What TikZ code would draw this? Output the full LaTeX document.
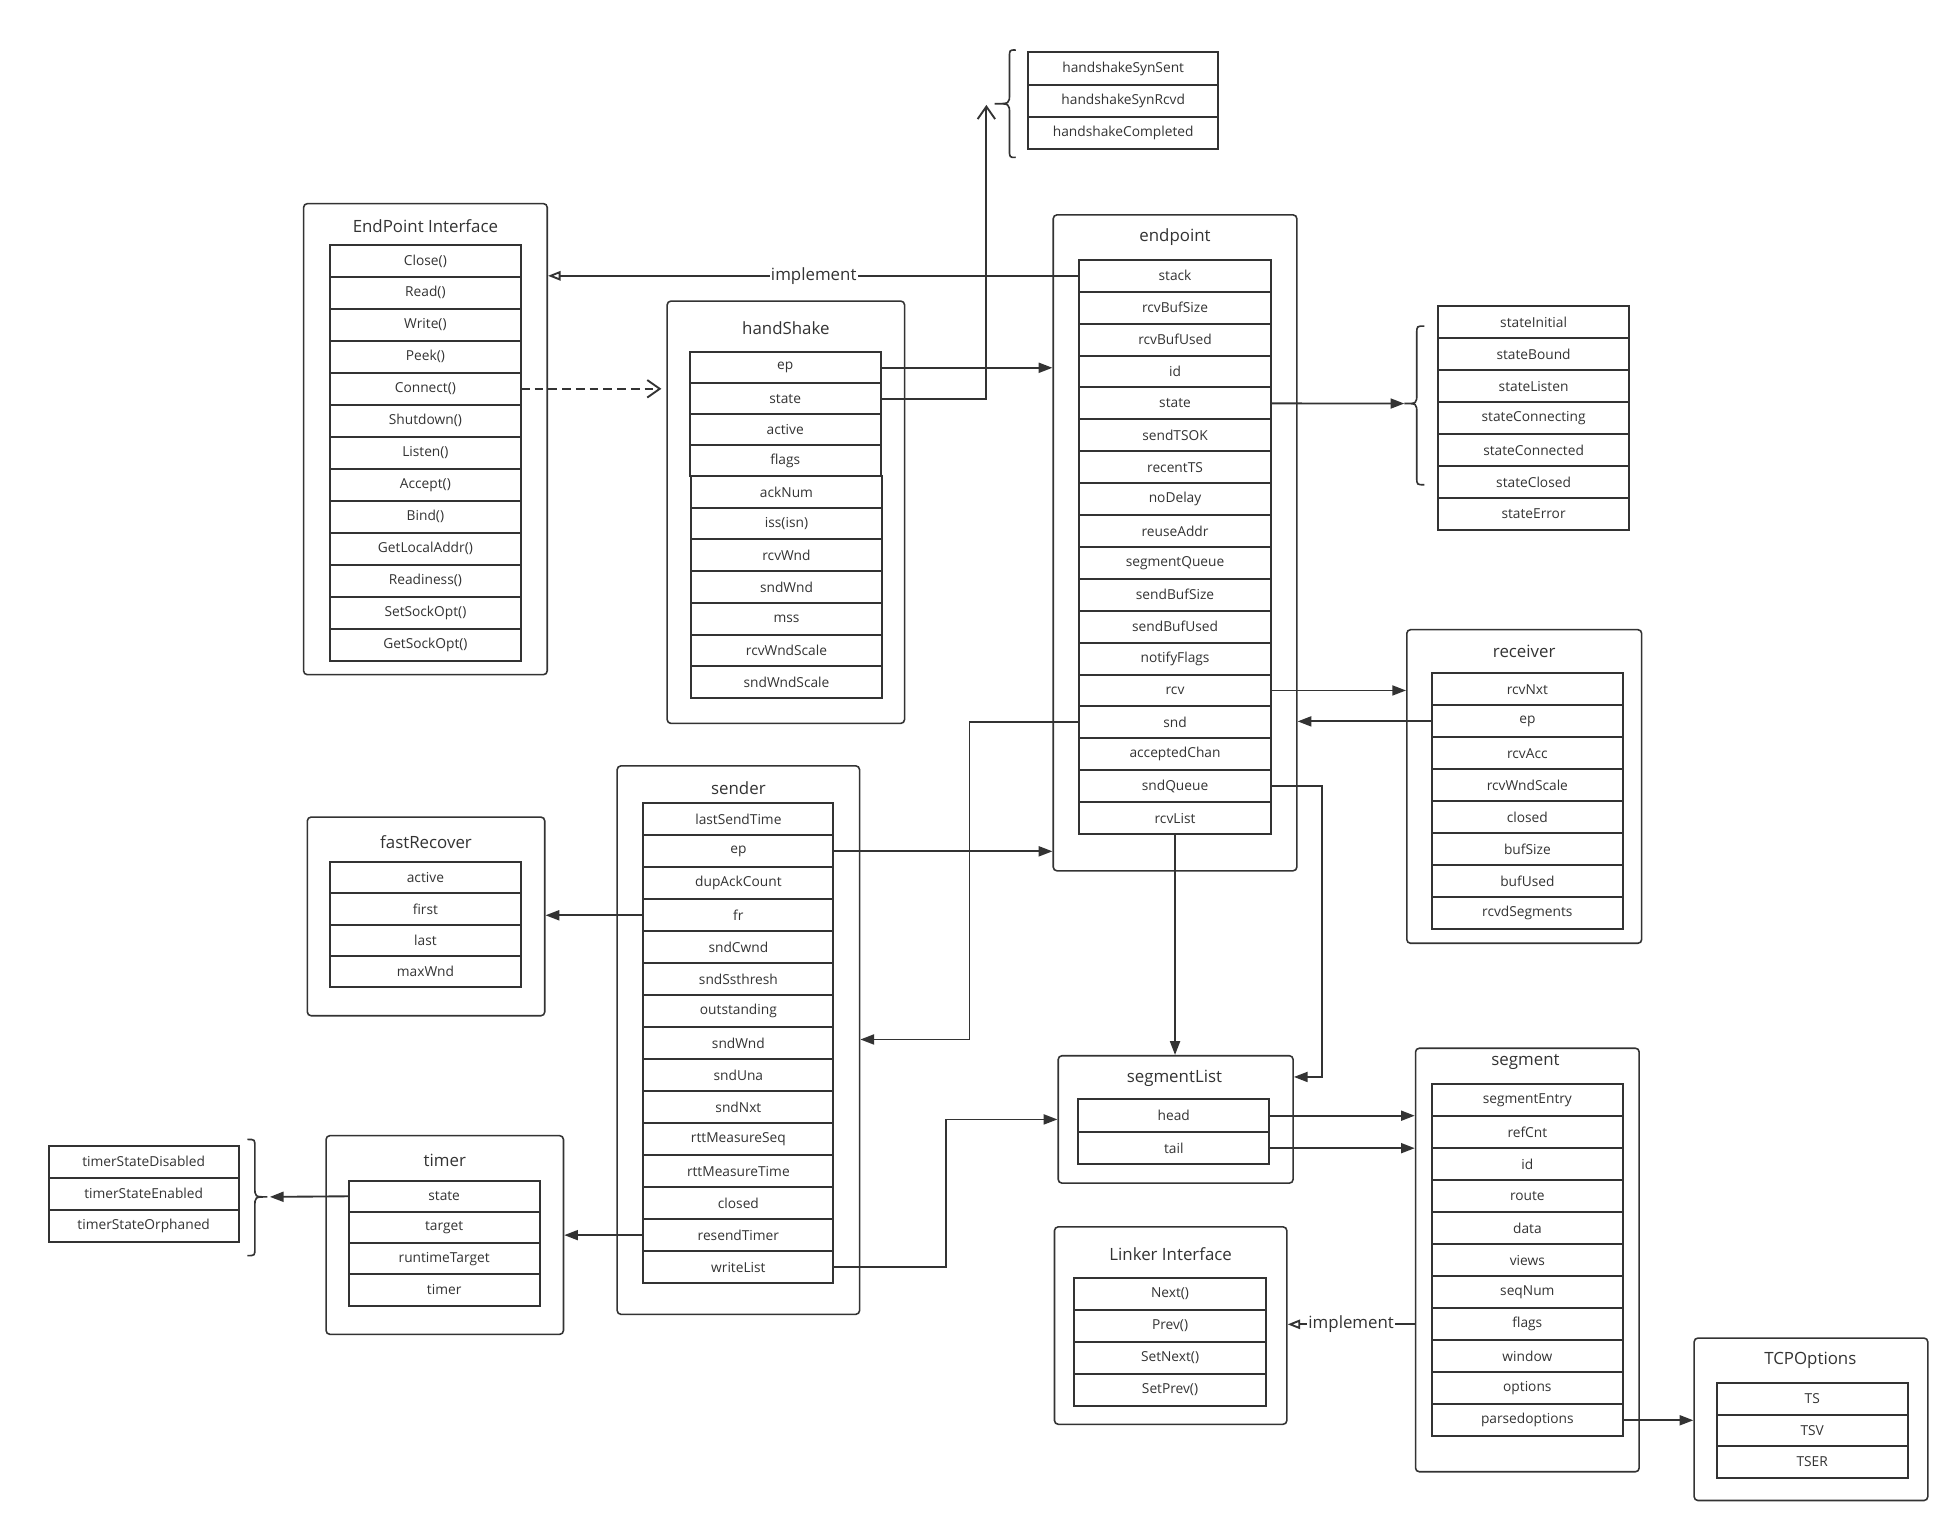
\documentclass[tikz,border=0pt]{standalone}
\usepackage{fontspec}
\setmainfont{Open Sans}
\usetikzlibrary{arrows.meta,fit}
\definecolor{ink}{HTML}{333333}
\tikzset{
  obox/.style={draw=ink, line width=1.25pt, rounded corners=3pt, inner sep=0pt, fill=white},
  ttl/.style={text=ink, font=\fontsize{13.5}{15}\selectfont, inner sep=0pt},
  fld/.style={draw=ink, line width=1.6pt, fill=white, text=ink, font=\fontsize{11}{13}\selectfont, inner sep=0pt, outer sep=0pt},
  conn/.style={draw=ink, line width=1.5pt},
  solidarrow/.style={conn, -{Triangle[length=11pt,width=8pt]}},
  impl/.style={conn, -{Triangle[open,length=10pt,width=7.5pt,fill=white]}},
  barb/.style={conn, -{Straight Barb[length=10pt,width=14pt]}},
  lbl/.style={fill=white, text=ink, font=\fontsize{13.5}{15}\selectfont, inner sep=1pt},
  curly/.style={draw=ink, line width=1.3pt},
}
% a column of field cells: prefix, left x, top y, width, row height, labels
\newcommand\fieldstack[6]{%
  \foreach \fname [count=\i] in {#6}{%
    \node[fld, minimum width=#4pt, minimum height=#5pt, anchor=north west] (#1-\i) at ({#2},{#3+(\i-1)*#5}) {\fname};
  }%
}
% curly brace: tip x, tip y, stem x, end x, top y, bottom y
\newcommand\curlybrace[6]{%
  \draw[curly] (#4,#5) .. controls (#3,#5) .. (#3,#5+6)
    -- (#3,#2-8) .. controls (#3,#2) .. (#1,#2)
    .. controls (#3,#2) .. (#3,#2+8)
    -- (#3,#6-6) .. controls (#3,#6) .. (#4,#6);
}
\begin{document}
\begin{tikzpicture}[x=1pt,y=-1pt]
\fill[white] (0,0) rectangle (1568,1228);
\useasboundingbox (0,0) rectangle (1568,1228);

% struct frames and their titles
\node[obox, fit={(243,163) (438,540)}] (epi) {};
\node[ttl] (epi-t) at (340.5,181) {EndPoint Interface};
\node[obox, fit={(534,241) (724,579)}] (hs) {};
\node[ttl] (hs-t) at (629,263) {handShake};
\node[obox, fit={(843,172) (1038,697)}] (ept) {};
\node[ttl] (ept-t) at (940.5,190) {endpoint};
\node[obox, fit={(1126,504) (1314,755)}] (rcv) {};
\node[ttl] (rcv-t) at (1220,521) {receiver};
\node[obox, fit={(494,613) (688,1052)}] (snd) {};
\node[ttl] (snd-t) at (591,631) {sender};
\node[obox, fit={(246,654) (436,813)}] (fr) {};
\node[ttl] (fr-t) at (341,674) {fastRecover};
\node[obox, fit={(261,909) (451,1068)}] (tm) {};
\node[ttl] (tm-t) at (356,929) {timer};
\node[obox, fit={(847,845) (1035,947)}] (sl) {};
\node[ttl] (sl-t) at (940,863) {segmentList};
\node[obox, fit={(1133,839) (1312,1178)}] (sg) {};
\node[ttl] (sg-t) at (1221,850) {segment};
\node[obox, fit={(844,982) (1030,1140)}] (lk) {};
\node[ttl] (lk-t) at (937,1004) {Linker Interface};
\node[obox, fit={(1356,1071) (1543,1201)}] (tcp) {};
\node[ttl] (tcp-t) at (1449,1089) {TCPOptions};

% fields
\fieldstack{epif}{264}{196}{153}{25.6}{Close(),Read(),Write(),Peek(),Connect(),Shutdown(),Listen(),Accept(),Bind(),GetLocalAddr(),Readiness(),SetSockOpt(),GetSockOpt()}
\fieldstack{hsa}{552}{282}{153}{24.75}{ep,state,active,flags}
\fieldstack{hsb}{553}{381}{153}{25.4}{ackNum,iss(isn),rcvWnd,sndWnd,mss,rcvWndScale,sndWndScale}
\fieldstack{hss}{823}{42}{152}{25.7}{handshakeSynSent,handshakeSynRcvd,handshakeCompleted}
\fieldstack{ep}{864}{208}{153}{25.53}{stack,rcvBufSize,rcvBufUsed,id,state,sendTSOK,recentTS,noDelay,reuseAddr,segmentQueue,sendBufSize,sendBufUsed,notifyFlags,rcv,snd,acceptedChan,sndQueue,rcvList}
\fieldstack{st}{1151}{245}{153}{25.6}{stateInitial,stateBound,stateListen,stateConnecting,stateConnected,stateClosed,stateError}
\fieldstack{rv}{1146}{539}{153}{25.6}{rcvNxt,ep,rcvAcc,rcvWndScale,closed,bufSize,bufUsed,rcvdSegments}
\fieldstack{sd}{515}{643}{152}{25.6}{lastSendTime,ep,dupAckCount,fr,sndCwnd,sndSsthresh,outstanding,sndWnd,sndUna,sndNxt,rttMeasureSeq,rttMeasureTime,closed,resendTimer,writeList}
\fieldstack{frf}{264}{690}{153}{25}{active,first,last,maxWnd}
\fieldstack{tmf}{279}{945}{153}{25}{state,target,runtimeTarget,timer}
\fieldstack{tms}{39}{917}{152}{25.7}{timerStateDisabled,timerStateEnabled,timerStateOrphaned}
\fieldstack{slf}{863}{880}{153}{26}{head,tail}
\fieldstack{sgf}{1146}{868}{153}{25.6}{segmentEntry,refCnt,id,route,data,views,seqNum,flags,window,options,parsedoptions}
\fieldstack{lkf}{860}{1023}{153}{25.5}{Next(),Prev(),SetNext(),SetPrev()}
\fieldstack{tcpf}{1374}{1107}{153}{25.3}{TS,TSV,TSER}

% braces grouping the state constants
\curlybrace{796}{83}{808}{813}{40}{126}
\coordinate (hsbr-tip) at (789.5,84);
\curlybrace{1124}{323}{1134}{1140}{261}{388}
\coordinate (stbr-tip) at (1124,323);
\curlybrace{214}{958}{204}{198}{912}{1005}
\coordinate (tmbr-tip) at (216,958);

% bend points
\coordinate (j1) at (776,832);
\coordinate (j2) at (1058,862);
\coordinate (j3) at (757,896);

% connectors
\draw[impl] (ep-1.west) -- node[lbl]{implement} (ep-1.west -| epi.east);
\draw[barb, dash pattern=on 7pt off 4pt] (epif-5.east) -- ([xshift=-4pt]epif-5.east -| hs.west);
\draw[solidarrow] (hsa-1.east) -- (hsa-1.east -| ept.west);
\draw[barb] (hsa-2.east) -| (hsbr-tip);
\draw[solidarrow] (ep-5.east) -- (stbr-tip);
\draw[solidarrow] (ep-14.east) -- (ep-14.east -| rcv.west);
\draw[solidarrow] (rv-2.west) -- (rv-2.west -| ept.east);
\draw[solidarrow] (ep-15.west) -| (j1) -- (j1 -| snd.east);
\draw[solidarrow] (ep-17.east) -| (j2) -- (j2 -| sl.east);
\draw[solidarrow] (ep-18.south) -- (ep-18.south |- sl.north);
\draw[solidarrow] (sd-2.east) -- (sd-2.east -| ept.west);
\draw[solidarrow] (sd-4.west) -- (sd-4.west -| fr.east);
\draw[solidarrow] (sd-14.west) -- (sd-14.west -| tm.east);
\draw[solidarrow] (tmf-1.west) -- (tmbr-tip);
\draw[solidarrow] (sd-15.east) -| (j3) -- (j3 -| sl.west);
\draw[solidarrow] (slf-1.east) -- (slf-1.east -| sg.west);
\draw[solidarrow] (slf-2.east) -- (slf-2.east -| sg.west);
\draw[solidarrow] (sgf-11.east) -- (sgf-11.east -| tcp.west);
\draw[impl] (sgf-8.west -| sg.west) -- node[lbl]{implement} (sgf-8.west -| lk.east);
\end{tikzpicture}
\end{document}
